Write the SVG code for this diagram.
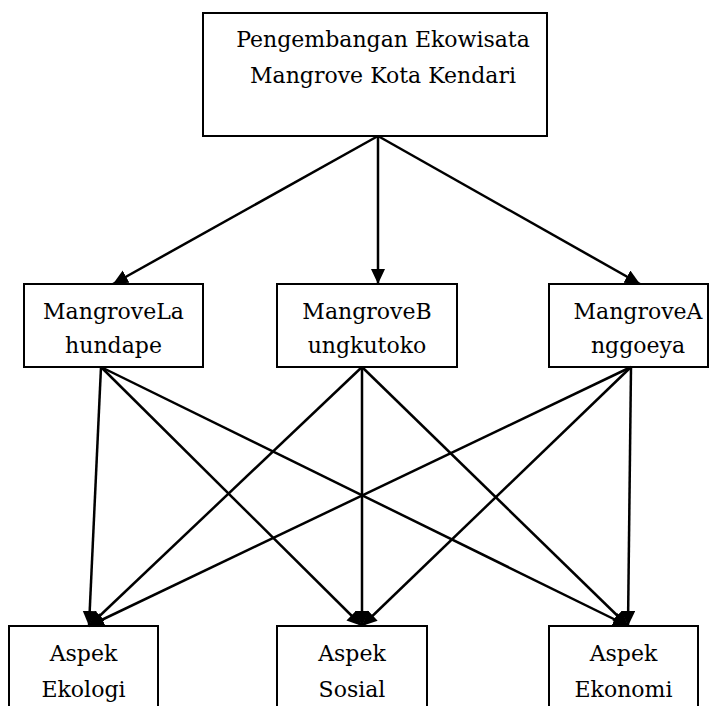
<svg xmlns="http://www.w3.org/2000/svg" width="718" height="706" viewBox="0 0 718 706">
<style>
.box{fill:#fff;stroke:#000;stroke-width:2}
text{font-family:'DejaVu Serif','Liberation Serif',serif;font-size:22px;fill:#000;text-anchor:middle}
.c line{stroke:#000;stroke-width:2.5}
</style>
<defs>
<marker id="ah" markerUnits="userSpaceOnUse" markerWidth="18" markerHeight="16" refX="15" refY="7" orient="auto">
<path d="M0,0 L15,7 L0,14 Z" fill="#000"/>
</marker>
</defs>
<rect width="718" height="706" fill="#fff"/>
<g id="n_top">
<rect class="box" x="203" y="13" width="344" height="123"/>
<text x="383" y="47">Pengembangan Ekowisata</text>
<text x="383" y="83">Mangrove Kota Kendari</text>
</g>
<g id="n_lahundape">
<rect class="box" x="24" y="284" width="179" height="83"/>
<text x="113.5" y="319">MangroveLa</text>
<text x="113.5" y="353">hundape</text>
</g>
<g id="n_bungkutoko">
<rect class="box" x="277" y="284" width="180" height="83"/>
<text x="367" y="319">MangroveB</text>
<text x="367" y="353">ungkutoko</text>
</g>
<g id="n_anggoeya">
<rect class="box" x="549" y="284" width="159" height="83"/>
<text x="638" y="319">MangroveA</text>
<text x="638" y="353">nggoeya</text>
</g>
<g id="n_ekologi">
<rect class="box" x="9" y="626" width="149" height="90"/>
<text x="83.5" y="661">Aspek</text>
<text x="83.5" y="697">Ekologi</text>
</g>
<g id="n_sosial">
<rect class="box" x="277" y="626" width="150" height="90"/>
<text x="352" y="661">Aspek</text>
<text x="352" y="697">Sosial</text>
</g>
<g id="n_ekonomi">
<rect class="box" x="549" y="626" width="149" height="90"/>
<text x="623.5" y="661">Aspek</text>
<text x="623.5" y="697">Ekonomi</text>
</g>
<g id="connectors" class="c">
<line x1="378" y1="136" x2="113" y2="284" marker-end="url(#ah)"/>
<line x1="378" y1="136" x2="378" y2="284" marker-end="url(#ah)"/>
<line x1="378" y1="136" x2="640" y2="284" marker-end="url(#ah)"/>
<line x1="101" y1="367" x2="89" y2="626" marker-end="url(#ah)"/>
<line x1="101" y1="367" x2="362" y2="626" marker-end="url(#ah)"/>
<line x1="101" y1="367" x2="628" y2="626" marker-end="url(#ah)"/>
<line x1="362" y1="367" x2="89" y2="626" marker-end="url(#ah)"/>
<line x1="362" y1="367" x2="362" y2="626" marker-end="url(#ah)"/>
<line x1="362" y1="367" x2="628" y2="626" marker-end="url(#ah)"/>
<line x1="631" y1="367" x2="89" y2="626" marker-end="url(#ah)"/>
<line x1="631" y1="367" x2="362" y2="626" marker-end="url(#ah)"/>
<line x1="631" y1="367" x2="628" y2="626" marker-end="url(#ah)"/>
</g>
</svg>
